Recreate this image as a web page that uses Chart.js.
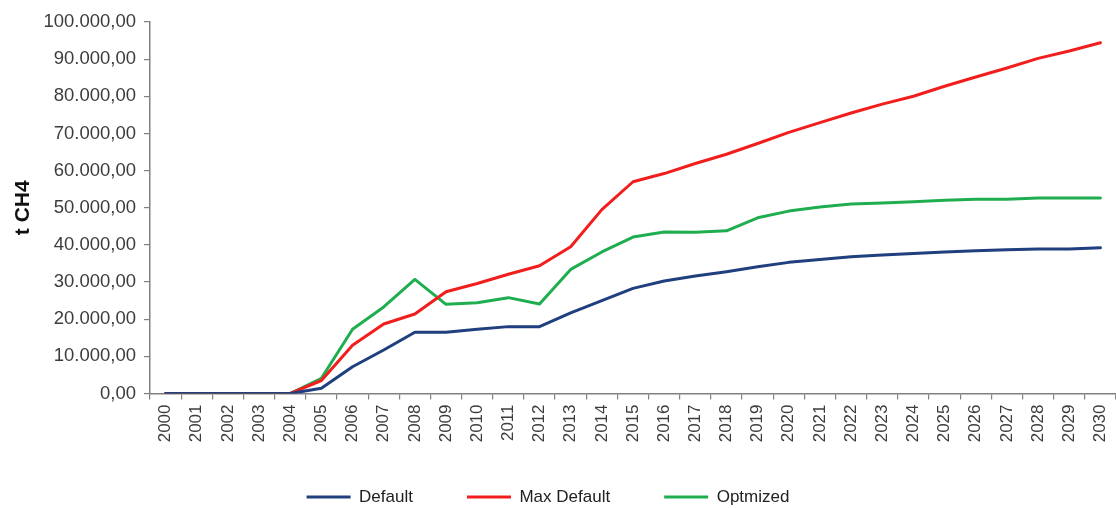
<!DOCTYPE html>
<html>
<head>
<meta charset="utf-8">
<script src="https://cdn.jsdelivr.net/npm/chart.js@4/dist/chart.umd.min.js"></script>
<style>
  html, body { margin: 0; padding: 0; background: #ffffff; }
  #wrap { width: 1116px; height: 508px; }
</style>
</head>
<body>
<div id="wrap"><canvas id="c" width="1116" height="508"></canvas></div>
<script>
const years = ['2000','2001','2002','2003','2004','2005','2006','2007','2008','2009','2010',
  '2011','2012','2013','2014','2015','2016','2017','2018','2019','2020',
  '2021','2022','2023','2024','2025','2026','2027','2028','2029','2030'];

const defaultSeries = [0,0,0,0,0,1400,7200,11700,16500,16500,17300,
  18000,18000,21700,25000,28300,30300,31600,32800,34100,35300,
  36100,36800,37300,37700,38100,38400,38700,38900,38900,39200];

const maxDefaultSeries = [0,0,0,0,0,3500,13000,18700,21400,27400,29600,
  32100,34400,39500,49500,57000,59200,61900,64400,67300,70300,
  72900,75500,77900,80000,82700,85200,87600,90200,92200,94400];

const optimizedSeries = [0,0,0,0,0,4100,17300,23300,30700,24000,24400,
  25800,24100,33400,38100,42100,43500,43400,43800,47300,49100,
  50200,51000,51300,51600,52000,52300,52300,52600,52600,52600];

const seriesNames = ['Default', 'Max Default', 'Optmized'];
const seriesColors = ['#1f3f7f', '#f21d1d', '#1fae4f'];

function fmt(v) {
  const s = Math.round(v).toString().replace(/\B(?=(\d{3})+(?!\d))/g, '.');
  return s + ',00';
}

const FONT = '"Liberation Sans", Arial, sans-serif';
const axisColor = '#808080';
const textColor = '#3c3c3c';

const legendShift = {
  id: 'legendShift',
  afterLayout: function(chart) {
    const lg = chart.legend;
    if (lg) { lg.top -= 22; lg.bottom -= 22; }
  }
};

new Chart(document.getElementById('c'), {
  type: 'line',
  data: {
    labels: years,
    datasets: [
      { label: seriesNames[0], data: defaultSeries, borderColor: seriesColors[0], backgroundColor: seriesColors[0] },
      { label: seriesNames[1], data: maxDefaultSeries, borderColor: seriesColors[1], backgroundColor: seriesColors[1] },
      { label: seriesNames[2], data: optimizedSeries, borderColor: seriesColors[2], backgroundColor: seriesColors[2] }
    ]
  },
  plugins: [legendShift],
  options: {
    responsive: false,
    devicePixelRatio: 1,
    animation: false,
    layout: { padding: { top: 22, right: 0, left: -20, bottom: -29.5 } },
    elements: {
      line: { borderWidth: 3, tension: 0, borderJoinStyle: 'round', borderCapStyle: 'round' },
      point: { radius: 0, hoverRadius: 0 }
    },
    plugins: {
      tooltip: { enabled: false },
      legend: {
        position: 'bottom',
        labels: {
          font: { family: FONT, size: 17 },
          color: '#222222',
          boxWidth: 44,
          boxHeight: 3,
          padding: 54,
          generateLabels: function(chart) {
            const items = Chart.defaults.plugins.legend.labels.generateLabels(chart);
            items.forEach(function(it) { it.lineWidth = 0; });
            return items;
          }
        }
      }
    },
    scales: {
      x: {
        offset: true,
        grid: { display: true, offset: true, drawOnChartArea: false, drawTicks: true, tickLength: 6, color: axisColor, lineWidth: 1.2 },
        border: { display: true, color: axisColor, width: 1.5 },
        ticks: {
          font: { family: FONT, size: 17 },
          color: textColor,
          minRotation: 90,
          maxRotation: 90,
          autoSkip: false,
          padding: 5
        },
        afterFit: function(scale) {
          scale.height = 63;
          scale.paddingRight = 0;
          scale.paddingLeft = 0;
        }
      },
      y: {
        min: 0,
        max: 100000,
        grid: { display: true, drawOnChartArea: false, drawTicks: true, tickLength: 6, color: axisColor, lineWidth: 1.2 },
        border: { display: true, color: axisColor, width: 1.5 },
        ticks: {
          stepSize: 10000,
          font: { family: FONT, size: 18.5 },
          color: textColor,
          padding: 8,
          callback: function(v) { return fmt(v); }
        },
        title: {
          display: true,
          text: 't CH4',
          font: { family: FONT, size: 21, weight: 'bold', lineHeight: 1 },
          color: '#111111',
          padding: { top: 33, bottom: 0 }
        },
        afterFit: function(scale) { scale.width = 170; }
      }
    }
  }
});
</script>
</body>
</html>
